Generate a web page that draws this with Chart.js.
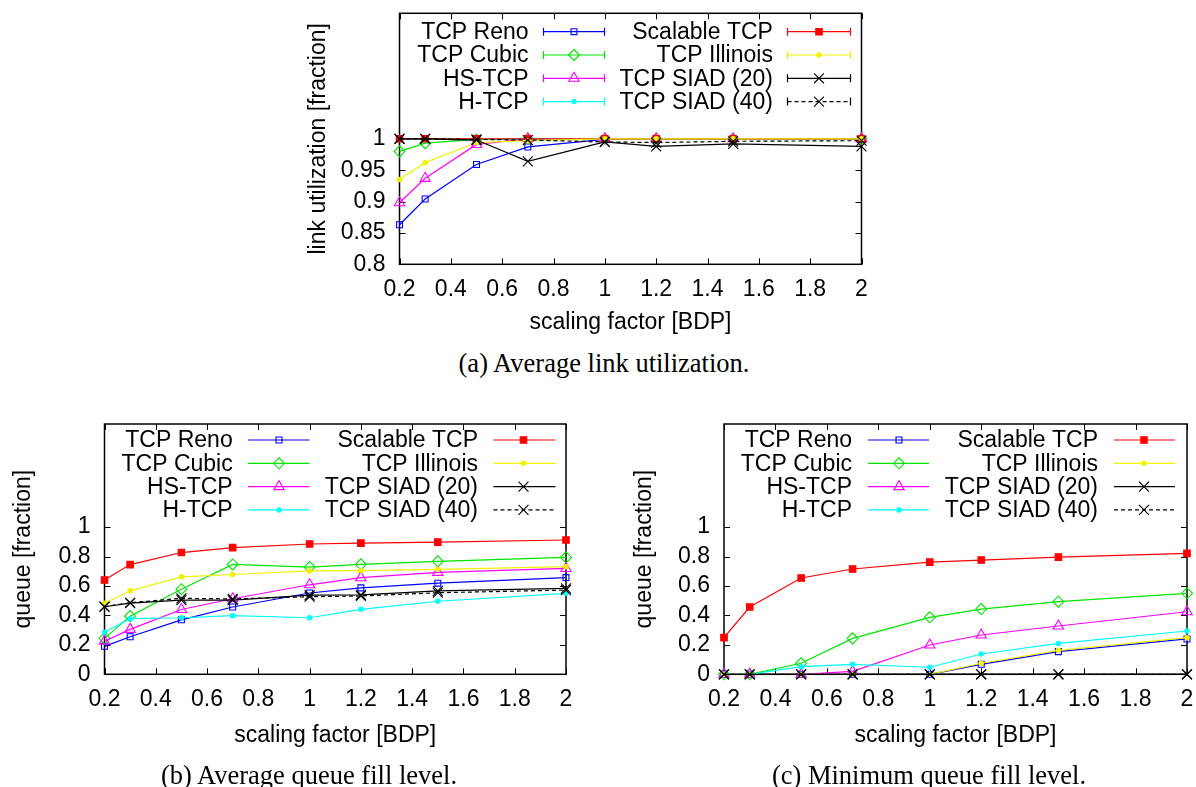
<!DOCTYPE html>
<html>
<head>
<meta charset="utf-8">
<script src="https://cdn.jsdelivr.net/npm/chart.js@4.4.0/dist/chart.umd.min.js"></script>
<style>
  html, body { margin: 0; padding: 0; background: #fff; }
  body { width: 1196px; height: 787px; position: relative; overflow: hidden; }
  canvas { position: absolute; }
  .cap { position: absolute; font-family: "Liberation Serif", "Times New Roman", serif; font-size: 26.5px; color: #000; white-space: nowrap; transform: translate(-50%, -50%); }
</style>
</head>
<body>
<canvas id="chartA" width="600" height="345" style="left:290px;top:0px"></canvas>
<canvas id="chartB" width="600" height="360" style="left:0px;top:400px"></canvas>
<canvas id="chartC" width="586" height="360" style="left:610px;top:400px"></canvas>
<div class="cap" style="left:604px;top:363px">(a) Average link utilization.</div>
<div class="cap" style="left:309px;top:775px">(b) Average queue fill level.</div>
<div class="cap" style="left:929px;top:775px">(c) Minimum queue fill level.</div>
<script>
// x values (scaling factor in BDP) and tick labels
const scalingFactor = [0.2, 0.3, 0.5, 0.7, 1.0, 1.2, 1.5, 2.0];
const xTicks = [0.2, 0.4, 0.6, 0.8, 1.0, 1.2, 1.4, 1.6, 1.8, 2.0];
const utilTicks = [0.8, 0.85, 0.9, 0.95, 1.0];
const queueTicks = [0, 0.2, 0.4, 0.6, 0.8, 1.0];

const seriesNames = ['TCP Reno', 'TCP Cubic', 'HS-TCP', 'H-TCP', 'Scalable TCP', 'TCP Illinois', 'TCP SIAD (20)', 'TCP SIAD (40)'];

// (a) average link utilization
const utilReno      = [0.863, 0.904, 0.959, 0.987, 0.999, 0.999, 0.999, 0.999];
const utilCubic     = [0.980, 0.993, 0.999, 1.0, 1.0, 1.0, 1.0, 1.0];
const utilHS        = [0.898, 0.937, 0.991, 1.0, 1.0, 1.0, 1.0, 1.0];
const utilHTCP      = [0.999, 1.0, 1.0, 1.0, 1.0, 1.0, 1.0, 1.0];
const utilScalable  = [1.0, 1.0, 1.0, 1.0, 1.0, 1.0, 1.0, 1.0];
const utilIllinois  = [0.935, 0.962, 0.994, 0.997, 1.0, 1.0, 1.0, 1.0];
const utilSiad20    = [1.0, 1.0, 0.998, 0.964, 0.995, 0.988, 0.992, 0.988];
const utilSiad40    = [1.0, 1.0, 0.999, 0.998, 0.995, 0.994, 0.996, 0.997];

// (b) average queue fill level
const avgReno       = [0.19, 0.255, 0.37, 0.457, 0.552, 0.587, 0.619, 0.657];
const avgCubic      = [0.244, 0.395, 0.578, 0.746, 0.728, 0.747, 0.767, 0.794];
const avgHS         = [0.225, 0.305, 0.44, 0.513, 0.608, 0.656, 0.692, 0.719];
const avgHTCP       = [0.285, 0.378, 0.384, 0.398, 0.384, 0.441, 0.496, 0.55];
const avgScalable   = [0.64, 0.745, 0.827, 0.86, 0.885, 0.891, 0.898, 0.912];
const avgIllinois   = [0.482, 0.567, 0.662, 0.678, 0.702, 0.704, 0.713, 0.731];
const avgSiad20     = [0.459, 0.484, 0.504, 0.504, 0.538, 0.54, 0.567, 0.584];
const avgSiad40     = [0.46, 0.486, 0.516, 0.512, 0.527, 0.532, 0.554, 0.572];

// (c) minimum queue fill level
const minReno       = [0, 0, 0, 0, 0, 0.068, 0.154, 0.24];
const minCubic      = [0, 0, 0.075, 0.244, 0.387, 0.443, 0.493, 0.55];
const minHS         = [0, 0, 0, 0.02, 0.199, 0.267, 0.328, 0.425];
const minHTCP       = [0, 0, 0.052, 0.068, 0.048, 0.138, 0.21, 0.294];
const minScalable   = [0.249, 0.457, 0.654, 0.715, 0.762, 0.776, 0.796, 0.821];
const minIllinois   = [0, 0, 0, 0, 0, 0.075, 0.163, 0.249];
const minSiad20     = [0, 0, 0, 0, 0, 0, 0, 0];
const minSiad40     = [0, 0, 0, 0, 0, 0, 0, 0];

// gnuplot-like line/point styles, same order as seriesNames
const styles = [
  { color: '#0000ff', pointStyle: 'rect',     radius: 4.2, fill: false },
  { color: '#00e600', pointStyle: 'rectRot',  radius: 5.5, fill: false },
  { color: '#ff00ff', pointStyle: 'triangle', radius: 6,   fill: false },
  { color: '#00ffff', pointStyle: 'circle',   radius: 2.2, fill: true },
  { color: '#ff0000', pointStyle: 'rect',     radius: 4.6, fill: true },
  { color: '#f2f200', pointStyle: 'circle',   radius: 2.2, fill: true },
  { color: '#000000', pointStyle: 'crossRot', radius: 7,   fill: false },
  { color: '#000000', pointStyle: 'crossRot', radius: 7,   fill: false, dash: [4, 3] }
];

const FONT = '"Liberation Sans", Arial, Helvetica, sans-serif';
const fmt = v => String(+Number(v).toFixed(2));

// inward ticks on all four sides + border box
const gpFrame = {
  id: 'gpFrame',
  beforeDatasetsDraw(chart) {
    const { ctx, chartArea: a, scales: { x, y } } = chart;
    ctx.save();
    ctx.strokeStyle = '#000';
    ctx.lineWidth = 1;
    ctx.beginPath();
    x.ticks.forEach(t => {
      const px = Math.round(x.getPixelForValue(t.value)) + 0.5;
      ctx.moveTo(px, a.bottom); ctx.lineTo(px, a.bottom - 6);
      ctx.moveTo(px, a.top); ctx.lineTo(px, a.top + 6);
    });
    y.ticks.forEach(t => {
      const py = Math.round(y.getPixelForValue(t.value)) + 0.5;
      ctx.moveTo(a.left, py); ctx.lineTo(a.left + 6, py);
      ctx.moveTo(a.right, py); ctx.lineTo(a.right - 6, py);
    });
    ctx.stroke();
    ctx.lineWidth = 1.5;
    ctx.strokeRect(a.left, a.top, a.right - a.left, a.bottom - a.top);
    ctx.restore();
  }
};

// two-column key inside the plot, text right-aligned before the sample
const gpLegend = {
  id: 'gpLegend',
  afterDraw(chart, args, opts) {
    const { ctx, chartArea: a } = chart;
    ctx.save();
    ctx.font = '23px ' + FONT;
    ctx.textAlign = 'right';
    ctx.textBaseline = 'middle';
    chart.data.datasets.forEach((ds, i) => {
      const c = opts.cols[i < 4 ? 0 : 1];
      const y = a.top + opts.y0 + (i % 4) * opts.dy;
      ctx.fillStyle = '#000';
      ctx.fillText(ds.label, a.left + c.text, y + 1);
      ctx.strokeStyle = ds.borderColor;
      ctx.lineWidth = ds.borderWidth;
      ctx.setLineDash(ds.borderDash || []);
      ctx.beginPath();
      ctx.moveTo(a.left + c.x1, y); ctx.lineTo(a.left + c.x2, y);
      ctx.stroke();
      ctx.setLineDash([]);
      if (opts.caps) {
        ctx.beginPath();
        ctx.moveTo(a.left + c.x1, y - 4); ctx.lineTo(a.left + c.x1, y + 4);
        ctx.moveTo(a.left + c.x2, y - 4); ctx.lineTo(a.left + c.x2, y + 4);
        ctx.stroke();
      }
      ctx.fillStyle = ds.pointBackgroundColor;
      ctx.strokeStyle = ds.pointBorderColor;
      ctx.lineWidth = ds.pointBorderWidth;
      Chart.helpers.drawPoint(ctx, {
        pointStyle: ds.pointStyle, radius: ds.pointRadius, rotation: 0,
        borderWidth: ds.pointBorderWidth
      }, a.left + c.mark, y);
    });
    ctx.restore();
  }
};

function makeChart(id, series, yTicks, yMin, yMax, yTitle, g, legend) {
  const datasets = series.map((vals, i) => {
    const s = styles[i];
    return {
      label: seriesNames[i],
      data: scalingFactor.map((x, k) => ({ x: x, y: vals[k] })),
      borderColor: s.color,
      borderWidth: 1.2,
      borderDash: s.dash || [],
      pointStyle: s.pointStyle,
      pointRadius: s.radius,
      pointBorderColor: s.color,
      pointBackgroundColor: s.fill ? s.color : 'rgba(0,0,0,0)',
      pointBorderWidth: 1.1,
      tension: 0,
      clip: false,
      order: series.length - 1 - i
    };
  });
  return new Chart(document.getElementById(id), {
    type: 'line',
    data: { datasets },
    plugins: [gpFrame, gpLegend],
    options: {
      responsive: false,
      animation: false,
      devicePixelRatio: 1,
      events: [],
      layout: { padding: { left: 0, top: g.padTop, right: g.padRight, bottom: 0 } },
      plugins: { legend: { display: false }, tooltip: { enabled: false }, gpLegend: legend },
      scales: {
        x: {
          type: 'linear', min: 0.2, max: 2.0,
          grid: { display: false, drawTicks: false },
          border: { display: false },
          afterBuildTicks: s => { s.ticks = xTicks.map(v => ({ value: v })); },
          afterFit: s => { s.height = g.xHeight; s.paddingLeft = 0; s.paddingRight = 0; },
          ticks: { color: '#000', padding: g.xTickPad, maxRotation: 0, autoSkip: false,
                   font: { family: FONT, size: 23, lineHeight: 1 }, callback: v => fmt(v) },
          title: { display: true, text: 'scaling factor [BDP]', color: '#000',
                   font: { family: FONT, size: 23, lineHeight: 1 }, padding: { top: 0, bottom: g.xTitlePad } }
        },
        y: {
          type: 'linear', min: yMin, max: yMax,
          grid: { display: false, drawTicks: false },
          border: { display: false },
          afterBuildTicks: s => { s.ticks = yTicks.map(v => ({ value: v })); },
          afterFit: s => { s.width = g.yWidth; s.paddingTop = 0; s.paddingBottom = 0; },
          ticks: { color: '#000', padding: 14, autoSkip: false,
                   font: { family: FONT, size: 23, lineHeight: 1 }, callback: v => fmt(v) },
          title: { display: true, text: yTitle, color: '#000',
                   font: { family: FONT, size: 23, lineHeight: 1 }, padding: { top: g.yTitlePad, bottom: 0 } }
        }
      }
    }
  });
}

makeChart('chartA',
  [utilReno, utilCubic, utilHS, utilHTCP, utilScalable, utilIllinois, utilSiad20, utilSiad40],
  utilTicks, 0.8, 1.2, 'link utilization [fraction]',
  { yWidth: 109.5, xHeight: 80.7, padTop: 13.3, padRight: 28.5, yTitlePad: 17, xTitlePad: 10.5, xTickPad: 14 },
  { y0: 18.4, dy: 23.3, caps: true,
    cols: [{ text: 129, x1: 144, x2: 205, mark: 174.5 }, { text: 373.4, x1: 388, x2: 451, mark: 419.5 }] });

makeChart('chartB',
  [avgReno, avgCubic, avgHS, avgHTCP, avgScalable, avgIllinois, avgSiad20, avgSiad40],
  queueTicks, 0, 1.7, 'queue [fraction]',
  { yWidth: 104.5, xHeight: 85.7, padTop: 24, padRight: 34, yTitlePad: 12.5, xTitlePad: 13, xTickPad: 13.5 },
  { y0: 16, dy: 23.3, caps: false,
    cols: [{ text: 128.2, x1: 143.5, x2: 205, mark: 174.5 }, { text: 373.5, x1: 389, x2: 451, mark: 419 }] });

makeChart('chartC',
  [minReno, minCubic, minHS, minHTCP, minScalable, minIllinois, minSiad20, minSiad40],
  queueTicks, 0, 1.7, 'queue [fraction]',
  { yWidth: 114, xHeight: 85.7, padTop: 24, padRight: 9, yTitlePad: 23.5, xTitlePad: 13, xTickPad: 13.5 },
  { y0: 16, dy: 23.3, caps: false,
    cols: [{ text: 128, x1: 144, x2: 205, mark: 175 }, { text: 374, x1: 390, x2: 451, mark: 420 }] });
</script>
</body>
</html>
